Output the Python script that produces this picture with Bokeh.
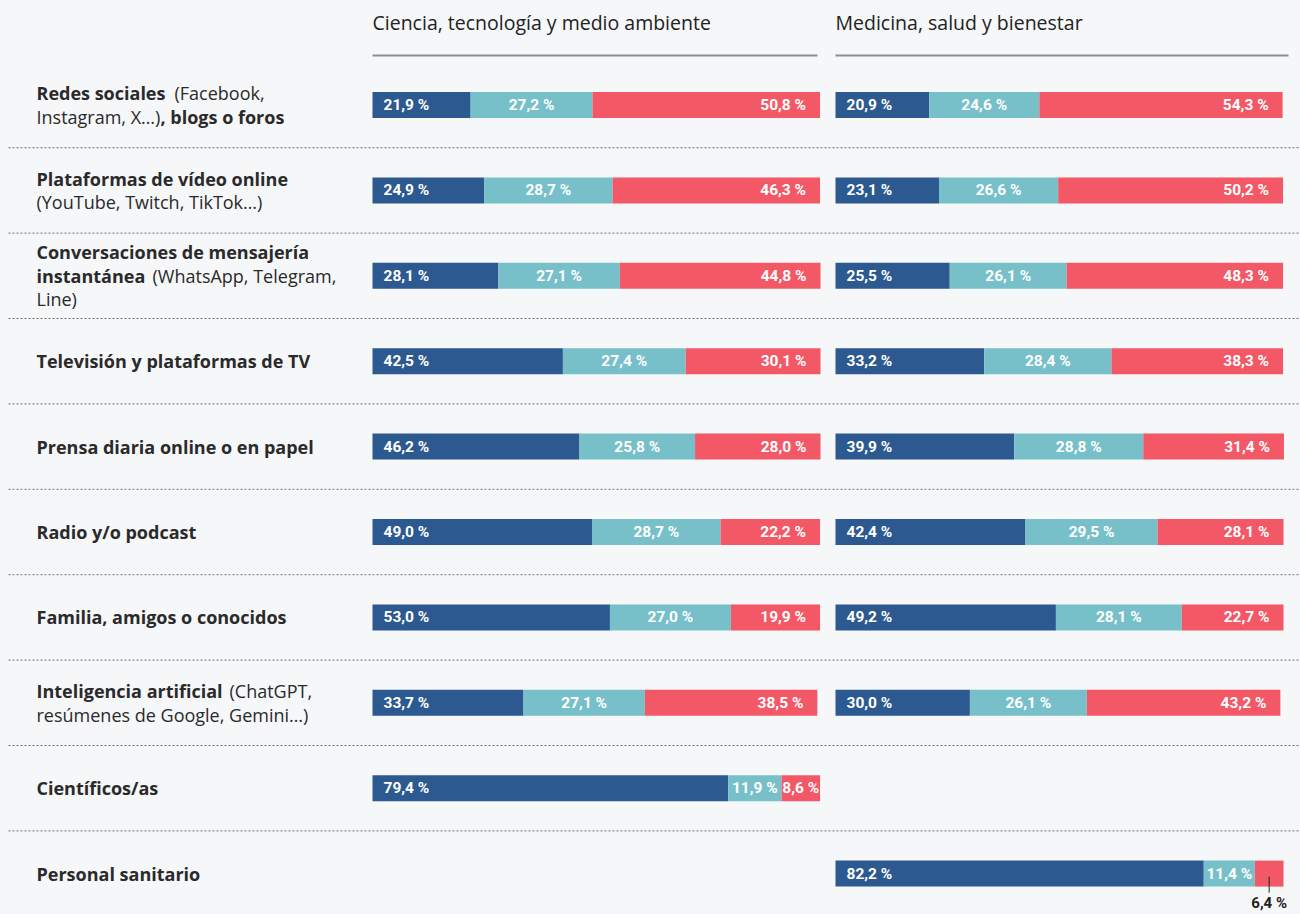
from bokeh.plotting import figure
from bokeh.models import Range1d, ColumnDataSource
from bokeh.core.properties import value
from bokeh.embed import file_html
from bokeh.resources import INLINE

# ---------------- data ----------------
categories = [
    "Redes sociales", "Plataformas de vídeo online",
    "Conversaciones de mensajería instantánea", "Televisión y plataformas de TV",
    "Prensa diaria online o en papel", "Radio y/o podcast",
    "Familia, amigos o conocidos", "Inteligencia artificial",
    "Científicos/as", "Personal sanitario",
]
panel_titles = ["Ciencia, tecnología y medio ambiente", "Medicina, salud y bienestar"]

ciencia_azul = [21.9, 24.9, 28.1, 42.5, 46.2, 49.0, 53.0, 33.7, 79.4, None]
ciencia_cian = [27.2, 28.7, 27.1, 27.4, 25.8, 28.7, 27.0, 27.1, 11.9, None]
ciencia_rojo = [50.8, 46.3, 44.8, 30.1, 28.0, 22.2, 19.9, 38.5, 8.6, None]

medicina_azul = [20.9, 23.1, 25.5, 33.2, 39.9, 42.4, 49.2, 30.0, None, 82.2]
medicina_cian = [24.6, 26.6, 26.1, 28.4, 28.8, 29.5, 28.1, 26.1, None, 11.4]
medicina_rojo = [54.3, 50.2, 48.3, 38.3, 31.4, 28.1, 22.7, 43.2, None, 6.4]

# category labels split in lines of (text, bold) pieces
label_lines = [
    [[("Redes sociales", True), ("(Facebook,", False)],
     [("Instagram, X…)", False), (", blogs o foros", True)]],
    [[("Plataformas de vídeo online", True)], [("(YouTube, Twitch, TikTok…)", False)]],
    [[("Conversaciones de mensajería", True)],
     [("instantánea", True), ("(WhatsApp, Telegram,", False)],
     [("Line)", False)]],
    [[("Televisión y plataformas de TV", True)]],
    [[("Prensa diaria online o en papel", True)]],
    [[("Radio y/o podcast", True)]],
    [[("Familia, amigos o conocidos", True)]],
    [[("Inteligencia artificial", True), ("(ChatGPT,", False)],
     [("resúmenes de Google, Gemini…)", False)]],
    [[("Científicos/as", True)]],
    [[("Personal sanitario", True)]],
]
# pixel offsets of the second piece on mixed lines (row, line) -> px
piece_offsets = {(0, 0): 138, (0, 1): 124, (2, 1): 116, (7, 0): 193}

# ---------------- style / layout ----------------
W, H = 1300, 914
BG = "#f6f7f9"
C_AZUL, C_CIAN, C_ROJO = "#2c5990", "#77c0ca", "#f35866"
TXT = "#2a2a2a"
PX_PER_PCT = 4.48
PANEL_PX = [372, 835]
LABEL_PX = 36
ROW0_PX, ROW_PX = 104.5, 85.4
BAR_PX = 26
LINE_PX = 23.5
NUM_FONT = value("Roboto")
LAB_FONT = value("Open Sans")

def ux(px):
    return (px - PANEL_PX[0]) / PX_PER_PCT

def uy(px):
    return (px - ROW0_PX) / ROW_PX

panel_off = [ux(px) for px in PANEL_PX]

p = figure(width=W, height=H, x_range=Range1d(ux(0), ux(W)),
           y_range=Range1d(uy(H), uy(0)), output_backend="svg",
           toolbar_location=None, min_border=0,
           x_axis_location=None, y_axis_location=None)
p.grid.visible = False
p.outline_line_color = None
p.background_fill_color = BG
p.border_fill_color = BG

# headers
hdr_len_px = [445, 453]
for k, t in enumerate(panel_titles):
    p.text(x=[panel_off[k]], y=[uy(22)], text=[t], text_font=LAB_FONT,
           text_font_size="19.5px", text_color="#222222", text_baseline="middle")
    p.segment(x0=[panel_off[k]], x1=[panel_off[k] + hdr_len_px[k] / PX_PER_PCT],
              y0=[uy(55)], y1=[uy(55)], line_color="#8d8d8d", line_width=2)

# separators
for i in range(len(categories) - 1):
    p.segment(x0=[ux(8)], x1=[ux(W)], y0=[i + 0.5], y1=[i + 0.5],
              line_color="#6f6f6f", line_width=1, line_dash="2 2")

# category labels
for i, lines in enumerate(label_lines):
    n = len(lines)
    for j, pieces in enumerate(lines):
        yoff = (j - (n - 1) / 2) * LINE_PX
        for k, (txt, bold) in enumerate(pieces):
            xoff = 0 if k == 0 else piece_offsets[(i, j)]
            p.text(x=[ux(LABEL_PX)], y=[i], text=[txt], x_offset=xoff, y_offset=yoff,
                   text_font=LAB_FONT, text_font_size="18px",
                   text_font_style="bold" if bold else "normal",
                   text_color=TXT, text_baseline="middle", text_align="left")

def fmt(v):
    return f"{v:.1f}".replace(".", ",") + " %"

# bars
panels = [(ciencia_azul, ciencia_cian, ciencia_rojo), (medicina_azul, medicina_cian, medicina_rojo)]
colors = [C_AZUL, C_CIAN, C_ROJO]
NUM_SIZE = "15.5px"
for k, series in enumerate(panels):
    rows = [i for i in range(len(categories)) if series[0][i] is not None]
    left = [panel_off[k]] * len(rows)
    for s, vals in enumerate(series):
        v = [vals[i] for i in rows]
        right = [l + x for l, x in zip(left, v)]
        src = ColumnDataSource(dict(y=rows, left=left, right=right, v=v,
                                    mid=[(a + b) / 2 for a, b in zip(left, right)],
                                    lab=[fmt(x) for x in v]))
        p.hbar(y="y", left="left", right="right", height=BAR_PX / ROW_PX,
               source=src, fill_color=colors[s], line_color=None)
        common = dict(text_font=NUM_FONT, text_font_size=NUM_SIZE, text_font_style="bold",
                      text_color="white", text_baseline="middle")
        if s == 0:
            p.text(x="left", y="y", text="lab", x_offset=11, text_align="left",
                   source=src, **common)
        elif s == 1:
            p.text(x="mid", y="y", text="lab", text_align="center", source=src, **common)
        else:
            wide = [j for j, x in enumerate(v) if x * PX_PER_PCT > 70]
            mid = [j for j, x in enumerate(v) if 32 < x * PX_PER_PCT <= 70]
            out = [j for j, x in enumerate(v) if x * PX_PER_PCT <= 32]
            if wide:
                p.text(x=[right[j] for j in wide], y=[rows[j] for j in wide],
                       text=[fmt(v[j]) for j in wide], x_offset=-14, text_align="right", **common)
            if mid:
                p.text(x=[src.data["mid"][j] for j in mid], y=[rows[j] for j in mid],
                       text=[fmt(v[j]) for j in mid], text_align="center", **common)
            for j in out:
                cx = src.data["mid"][j]
                p.segment(x0=[cx], x1=[cx], y0=[rows[j] + 3 / ROW_PX], y1=[rows[j] + 19 / ROW_PX],
                          line_color="#222222", line_width=1)
                p.text(x=[cx], y=[rows[j] + 29 / ROW_PX], text=[fmt(v[j])], text_align="center",
                       text_font=NUM_FONT, text_font_size="15px", text_font_style="bold",
                       text_color="#222222", text_baseline="middle")
        left = right

template = """{% block postamble %}<style>html, body { margin: 0 !important; padding: 0 !important; background: #f6f7f9; overflow: hidden; }</style>{% endblock %}"""

open("out.html", "w").write(file_html(p, INLINE, template=template))
